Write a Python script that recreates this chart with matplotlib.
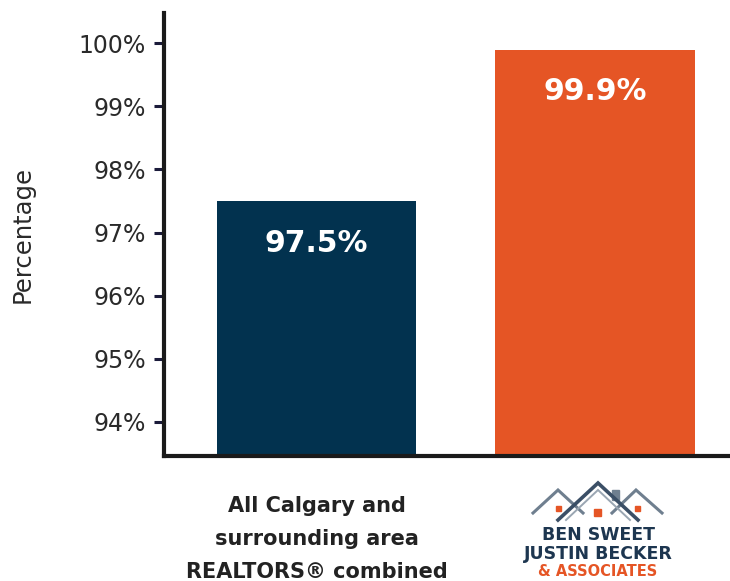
import matplotlib
matplotlib.use('Agg')
import matplotlib.pyplot as plt
from matplotlib.lines import Line2D
from matplotlib.patches import Rectangle

categories = ['All Calgary and\nsurrounding area\nREALTORS® combined', '']
values = [97.5, 99.9]
bar_labels = ['97.5%', '99.9%']
bar_colors = ['#02324f', '#e55525']
yticks = [94, 95, 96, 97, 98, 99, 100]
ytick_labels = ['94%', '95%', '96%', '97%', '98%', '99%', '100%']

plt.rcParams['font.family'] = ['DejaVu Sans']

fig = plt.figure(figsize=(7.3, 5.81), dpi=100)
ax = fig.add_axes([0.2247, 0.2151, 0.7753, 0.763])

x = range(len(values))
ax.bar(x, values, width=0.718, color=bar_colors, zorder=2)
ax.set_ylim(93.456, 100.485)
ax.set_xlim(-0.5476, 1.485)

for i, (v, lab) in enumerate(zip(values, bar_labels)):
    ax.text(i, v - 0.67, lab, ha='center', va='center', color='white',
            fontsize=21.5, fontweight='bold')

ax.set_yticks(yticks)
ax.set_yticklabels(ytick_labels, fontsize=17, color='#2a2a2a')
ax.tick_params(axis='y', length=7, width=2.2, color='#1b1b3a', pad=6)
ax.set_xticks(list(x))
ax.set_xticklabels(categories, fontsize=15, fontweight='bold',
                   color='#222222', linespacing=1.8)
ax.tick_params(axis='x', length=0, pad=29)
ax.set_ylabel('Percentage', fontsize=17.5, color='#2a2a2a', labelpad=32)

for s in ['top', 'right']:
    ax.spines[s].set_visible(False)
for s in ['left', 'bottom']:
    ax.spines[s].set_linewidth(3)
    ax.spines[s].set_color('#1a1a1a')

# logo under the second bar (drawn in pixel-based figure coords)
W, H = 730.0, 581.0

def fx(px):
    return px / W

def fy(py):
    return 1 - py / H

def roof(pts, color, lw):
    xs = [fx(p[0]) for p in pts]
    ys = [fy(p[1]) for p in pts]
    fig.add_artist(Line2D(xs, ys, color=color, lw=lw, solid_joinstyle='miter'))

roof([(533, 513), (558, 490), (583, 513)], '#6f7f8f', 2.2)
roof([(612, 513), (636, 490), (662, 513)], '#6f7f8f', 2.2)
roof([(558, 520), (598, 483), (638, 520)], '#3b4f66', 2.6)
roof([(566, 520), (598, 490), (630, 520)], '#9aa6b2', 1.4)
fig.add_artist(Rectangle((fx(612), fy(500)), 7 / W, 10 / H, color='#6f7f8f'))
for cx, cy, s in [(558, 508, 5), (597, 512, 7), (637, 508, 5)]:
    fig.add_artist(Rectangle((fx(cx - s / 2), fy(cy + s / 2)), s / W, s / H,
                             color='#e55525'))

fig.text(fx(598), fy(535), 'BEN SWEET', ha='center', va='center',
         fontsize=12.5, fontweight='bold', color='#1d3650')
fig.text(fx(598), fy(554), 'JUSTIN BECKER', ha='center', va='center',
         fontsize=12.5, fontweight='bold', color='#1d3650')
fig.text(fx(598), fy(571), '& ASSOCIATES', ha='center', va='center',
         fontsize=10.5, fontweight='bold', color='#e55525')

fig.savefig('out.png', dpi=100)
